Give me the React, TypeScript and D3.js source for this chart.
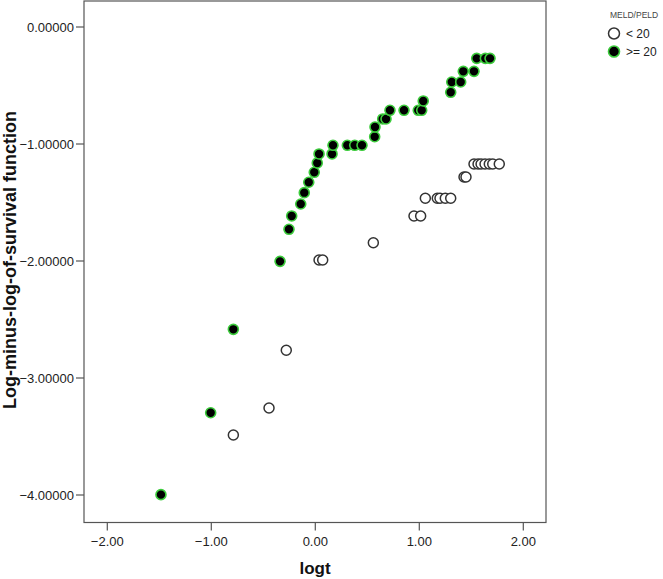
import React from "react";
import * as d3 from "d3";

const W = 663;
const H = 579;

// MELD/PELD < 20 (open circles)
const lowX = [-0.788, -0.445, -0.279, 0.036, 0.071, 0.558, 0.949, 1.013, 1.058, 1.173, 1.199, 1.25, 1.302, 1.43, 1.449, 1.526, 1.565, 1.594, 1.632, 1.673, 1.706, 1.769];
const lowY = [-3.487, -3.256, -2.763, -1.991, -1.991, -1.844, -1.615, -1.615, -1.464, -1.464, -1.464, -1.464, -1.464, -1.282, -1.282, -1.171, -1.171, -1.171, -1.171, -1.171, -1.171, -1.171];

// MELD/PELD >= 20 (filled)
const highX = [-1.484, -1.006, -0.788, -0.339, -0.253, -0.227, -0.14, -0.106, -0.063, -0.01, 0.019, 0.036, 0.161, 0.17, 0.308, 0.379, 0.449, 0.571, 0.574, 0.648, 0.68, 0.718, 0.853, 0.99, 1.023, 1.038, 1.302, 1.312, 1.398, 1.423, 1.526, 1.552, 1.635, 1.68];
const highY = [-3.997, -3.297, -2.584, -2.003, -1.729, -1.615, -1.513, -1.416, -1.327, -1.242, -1.162, -1.085, -1.085, -1.011, -1.011, -1.011, -1.011, -0.938, -0.855, -0.786, -0.786, -0.712, -0.712, -0.712, -0.712, -0.632, -0.558, -0.47, -0.47, -0.379, -0.379, -0.268, -0.268, -0.268];

const xTicks = [-2, -1, 0, 1, 2];
const yTicks = [0, -1, -2, -3, -4];
const legendTitle = "MELD/PELD";
const legendLabels = ["< 20", ">= 20"];

const FONT = "Arial, 'Liberation Sans', sans-serif";

export default function App() {
  const left = 84;
  const right = 546;
  const top = 1;
  const bottom = 522.5;

  const x = d3.scaleLinear().domain([-2, 2]).range([107.3, 523.3]);
  const y = d3.scaleLinear().domain([0, -4]).range([27, 495]);

  const low = lowX.map((v, i) => ({ x: v, y: lowY[i] }));
  const high = highX.map((v, i) => ({ x: v, y: highY[i] }));

  return (
    <svg
      width={W}
      height={H}
      style={{ position: "absolute", left: 0, top: 0, background: "#fff" }}
      fontFamily={FONT}
    >
      <rect x={0} y={0} width={W} height={H} fill="#fff" />
      {/* plot frame */}
      <rect x={left} y={top} width={right - left} height={bottom - top} fill="none" stroke="#555" strokeWidth={1.2} />

      {/* y ticks */}
      {yTicks.map((t) => (
        <g key={"y" + t}>
          <line x1={left - 8} x2={left} y1={y(t)} y2={y(t)} stroke="#555" strokeWidth={1.2} />
          <text x={left - 10} y={y(t) + 4.5} textAnchor="end" fontSize={13} fill="#222">
            {d3.format(".5f")(t)}
          </text>
        </g>
      ))}

      {/* x ticks */}
      {xTicks.map((t) => (
        <g key={"x" + t}>
          <line x1={x(t)} x2={x(t)} y1={bottom} y2={bottom + 8} stroke="#555" strokeWidth={1.2} />
          <text x={x(t)} y={bottom + 23} textAnchor="middle" fontSize={13} fill="#222">
            {d3.format(".2f")(t)}
          </text>
        </g>
      ))}

      {/* axis titles */}
      <text x={315} y={574} textAnchor="middle" fontSize={17} fontWeight="bold" fill="#111">
        logt
      </text>
      <text
        transform={`translate(16, 260) rotate(-90)`}
        textAnchor="middle"
        fontSize={18}
        fontWeight="bold"
        fill="#111"
      >
        Log-minus-log-of-survival function
      </text>

      {/* points */}
      {low.map((d, i) => (
        <circle key={"l" + i} cx={x(d.x)} cy={y(d.y)} r={5} fill="#fff" stroke="#333" strokeWidth={1.5} />
      ))}
      {high.map((d, i) => (
        <circle key={"h" + i} cx={x(d.x)} cy={y(d.y)} r={5} fill="#000" stroke="#3ccc3c" strokeWidth={1.6} />
      ))}

      {/* legend */}
      <text x={610} y={18} fontSize={8.5} fill="#444">
        {legendTitle}
      </text>
      <circle cx={614} cy={33.5} r={5.5} fill="#fff" stroke="#333" strokeWidth={1.5} />
      <text x={626} y={38} fontSize={12} fill="#222">
        {legendLabels[0]}
      </text>
      <circle cx={614} cy={51.5} r={5.5} fill="#000" stroke="#3ccc3c" strokeWidth={1.6} />
      <text x={626} y={56} fontSize={12} fill="#222">
        {legendLabels[1]}
      </text>
    </svg>
  );
}
